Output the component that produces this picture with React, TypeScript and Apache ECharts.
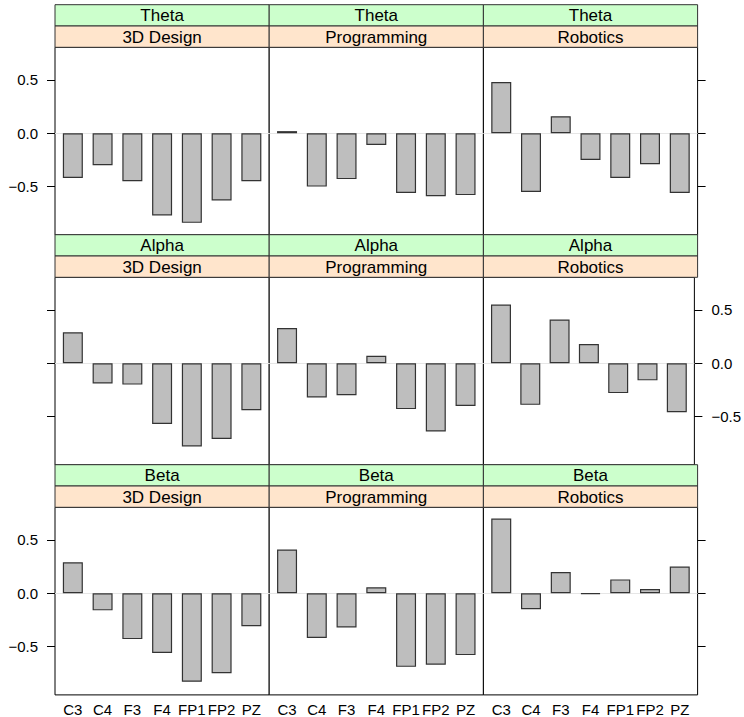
import React, { useEffect, useRef } from "react";
import * as echarts from "echarts";

const electrodes = ["C3", "C4", "F3", "F4", "FP1", "FP2", "PZ"];
const bands = ["Theta", "Alpha", "Beta"];
const courses = ["3D Design", "Programming", "Robotics"];
const yTicks = [-0.5, 0, 0.5];

const thetaDesign = [-0.42, -0.3, -0.45, -0.77, -0.84, -0.63, -0.45];
const thetaProgramming = [0.02, -0.5, -0.43, -0.11, -0.56, -0.59, -0.58];
const thetaRobotics = [0.48, -0.55, 0.16, -0.25, -0.42, -0.29, -0.56];

const alphaDesign = [0.29, -0.19, -0.2, -0.57, -0.78, -0.71, -0.44];
const alphaProgramming = [0.33, -0.32, -0.3, 0.07, -0.43, -0.64, -0.4];
const alphaRobotics = [0.55, -0.39, 0.41, 0.18, -0.28, -0.16, -0.46];

const betaDesign = [0.29, -0.16, -0.43, -0.56, -0.83, -0.75, -0.31];
const betaProgramming = [0.41, -0.42, -0.32, 0.056, -0.69, -0.67, -0.58];
const betaRobotics = [0.7, -0.15, 0.2, -0.008, 0.13, 0.04, 0.25];

const panelValues = [
  [thetaDesign, thetaProgramming, thetaRobotics],
  [alphaDesign, alphaProgramming, alphaRobotics],
  [betaDesign, betaProgramming, betaRobotics],
];

const FONT = "'Liberation Sans', Arial, sans-serif";
const colLeft = [55, 269.2, 483.4];
const colWidth = 214.2;
const rowTop = [47.3, 277.3, 507.3];
const panelHeight = 187.6;
const stripH = 21.3;

function fmt(v: number) {
  if (Math.abs(v) < 1e-9) return "0.0";
  return (v < 0 ? "\u2212" : "") + Math.abs(v).toFixed(1);
}

export default function App() {
  const ref = useRef<HTMLDivElement>(null);
  useEffect(() => {
    if (!ref.current) return;
    const chart = echarts.init(ref.current, null, { renderer: "svg" });
    const grid: any[] = [];
    const xAxis: any[] = [];
    const yAxis: any[] = [];
    const series: any[] = [];
    const graphic: any[] = [];
    let idx = 0;
    for (let r = 0; r < 3; r++) {
      for (let c = 0; c < 3; c++) {
        grid.push({
          left: colLeft[c],
          top: rowTop[r],
          width: colWidth,
          height: panelHeight,
          show: true,
          borderColor: "#000",
          borderWidth: 1,
          backgroundColor: "#fff",
          containLabel: false,
        });
        xAxis.push({
          type: "value",
          gridIndex: idx,
          min: 0.4,
          max: 7.6,
          axisLine: { show: false },
          axisTick: { show: false },
          splitLine: { show: false },
          axisLabel: {
            show: r === 2,
            customValues: [1, 2, 3, 4, 5, 6, 7],
            formatter: (v: number) => electrodes[Math.round(v) - 1] ?? "",
            fontSize: 15,
            fontFamily: FONT,
            color: "#000",
            margin: 7,
          },
        });
        const showLabel = c === 0 ? r !== 1 : c === 2 ? r === 1 : false;
        yAxis.push({
          type: "value",
          gridIndex: idx,
          min: -0.953,
          max: 0.806,
          position: c === 2 ? "right" : "left",
          show: c !== 1,
          axisLine: { show: false },
          splitLine: { show: false },
          axisTick: {
            show: true,
            length: 8,
            customValues: yTicks,
            lineStyle: { color: "#000", width: 1 },
          },
          axisLabel: {
            show: showLabel,
            customValues: yTicks,
            formatter: (v: number) => fmt(v),
            fontSize: 15,
            fontFamily: FONT,
            color: "#000",
            margin: 17,
          },
        });
        series.push({
          type: "bar",
          xAxisIndex: idx,
          yAxisIndex: idx,
          barWidth: 20,
          data: panelValues[r][c].map((v, k) => [k + 1, v]),
          itemStyle: { color: "#bebebe", borderColor: "#333", borderWidth: 1.2 },
          markLine: {
            silent: true,
            symbol: "none",
            z: 1,
            label: { show: false },
            lineStyle: { color: "#e6e6e6", type: "solid", width: 1 },
            data: [{ yAxis: 0 }],
          },
        });
        const x0 = colLeft[c];
        const yGreen = rowTop[r] - 2 * stripH;
        const yOrange = rowTop[r] - stripH;
        graphic.push({
          type: "rect",
          shape: { x: x0, y: yGreen, width: colWidth, height: stripH },
          style: { fill: "#ccffcc", stroke: "#333", lineWidth: 1 },
        });
        graphic.push({
          type: "rect",
          shape: { x: x0, y: yOrange, width: colWidth, height: stripH },
          style: { fill: "#ffe5cc", stroke: "#333", lineWidth: 1 },
        });
        graphic.push({
          type: "text",
          x: x0 + colWidth / 2,
          y: yGreen + stripH / 2 + 0.5,
          style: {
            text: bands[r],
            fontSize: 17,
            fontFamily: FONT,
            fill: "#000",
            align: "center",
            verticalAlign: "middle",
          },
        });
        graphic.push({
          type: "text",
          x: x0 + colWidth / 2,
          y: yOrange + stripH / 2 + 0.5,
          style: {
            text: courses[c],
            fontSize: 17,
            fontFamily: FONT,
            fill: "#000",
            align: "center",
            verticalAlign: "middle",
          },
        });
        idx++;
      }
    }
    chart.setOption({
      animation: false,
      backgroundColor: "#fff",
      grid,
      xAxis,
      yAxis,
      series,
      graphic,
    });
    return () => chart.dispose();
  }, []);
  return (
    <div
      ref={ref}
      style={{ position: "absolute", left: 0, top: 0, width: 744, height: 717 }}
    />
  );
}
